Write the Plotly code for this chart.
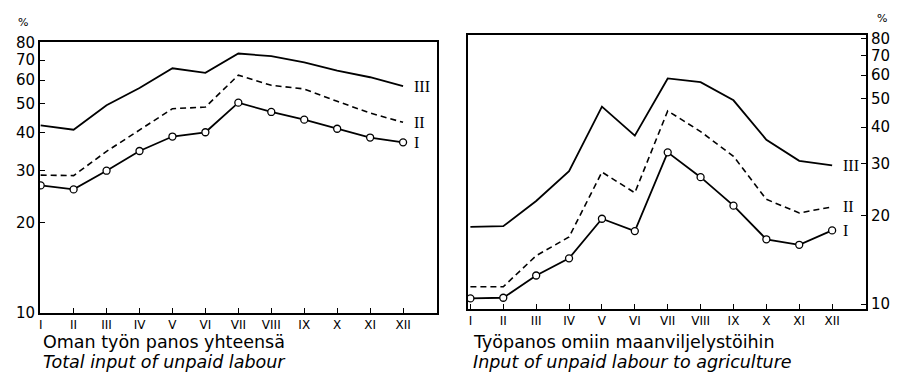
import numpy as np
import plotly.graph_objects as go

W, H = 898, 373

months = list(range(1, 13))
month_labels = ["I", "II", "III", "IV", "V", "VI", "VII", "VIII", "IX", "X", "XI", "XII"]
y_ticks = [10, 20, 30, 40, 50, 60, 70, 80]

# Left panel: total input of unpaid labour (%)
left_I = [26.7, 25.9, 29.9, 34.8, 38.9, 40.2, 50.5, 47.0, 44.3, 41.3, 38.6, 37.2]
left_II = [28.9, 28.8, 34.7, 41.0, 48.2, 48.8, 62.4, 57.7, 56.1, 51.0, 46.6, 43.4]
left_III = [42.4, 41.0, 49.5, 56.5, 65.8, 63.5, 73.7, 72.2, 68.9, 64.6, 61.4, 57.3]

# Right panel: input of unpaid labour to agriculture (%)
right_I = [10.45, 10.5, 12.5, 14.3, 19.5, 17.7, 32.8, 27.0, 21.6, 16.6, 15.9, 17.8]
right_II = [11.45, 11.45, 14.6, 16.9, 28.1, 23.9, 45.4, 38.6, 31.8, 22.7, 20.4, 21.4]
right_III = [18.3, 18.4, 22.4, 28.3, 46.9, 37.4, 58.5, 56.8, 49.3, 36.2, 30.7, 29.6]

series_labels = ["I", "II", "III"]

titles_left = ["Oman työn panos yhteensä", "<i>Total input of unpaid labour</i>"]
titles_right = ["Työpanos omiin maanviljelystöihin", "<i>Input of unpaid labour to agriculture</i>"]

FONT = "DejaVu Sans"
fig = go.Figure()


def add_panel(xa, ya, s1, s2, s3):
    fig.add_trace(go.Scatter(x=months, y=s3, mode="lines", xaxis=xa, yaxis=ya,
                             line=dict(color="black", width=1.8), showlegend=False))
    fig.add_trace(go.Scatter(x=months, y=s2, mode="lines", xaxis=xa, yaxis=ya,
                             line=dict(color="black", width=1.6, dash="6px,4px"), showlegend=False))
    fig.add_trace(go.Scatter(x=months, y=s1, mode="lines+markers", xaxis=xa, yaxis=ya,
                             line=dict(color="black", width=1.8),
                             marker=dict(symbol="circle", size=7, color="white",
                                         line=dict(color="black", width=1.3)),
                             showlegend=False))
    for lab, s in zip(series_labels, [s1, s2, s3]):
        fig.add_annotation(x=months[-1], y=np.log10(s[-1]), xref=xa, yref=ya,
                           text=lab, showarrow=False, xanchor="left", yanchor="middle",
                           xshift=9, font=dict(family="Liberation Serif", size=16, color="black"))


add_panel("x", "y", left_I, left_II, left_III)
add_panel("x2", "y2", right_I, right_II, right_III)

axis_common = dict(showline=True, linecolor="black", linewidth=2, mirror=True,
                   showgrid=False, zeroline=False, ticks="inside", tickcolor="black",
                   tickwidth=1, color="black", automargin=False)

fig.update_layout(
    width=W, height=H,
    margin=dict(l=0, r=0, t=0, b=0),
    paper_bgcolor="white", plot_bgcolor="white",
    font=dict(family=FONT, color="black"),
    xaxis=dict(domain=[40 / W, 437 / W], range=[0.98, 13.03], tickvals=months,
               ticktext=month_labels, ticklen=5, tickfont=dict(size=12), **axis_common),
    yaxis=dict(domain=[(H - 313) / H, (H - 42) / H], type="log", range=[1, 1.906],
               tickvals=y_ticks, ticktext=[str(v) for v in y_ticks], ticklen=5,
               tickfont=dict(size=15), side="left", **axis_common),
    xaxis2=dict(domain=[468 / W, 866 / W], range=[0.927, 13.03], tickvals=months,
                ticktext=month_labels, ticklen=5, tickfont=dict(size=12), anchor="y2",
                **axis_common),
    yaxis2=dict(domain=[(H - 309) / H, (H - 35) / H], type="log", range=[0.983, 1.915],
                tickvals=y_ticks, ticktext=[str(v) for v in y_ticks], ticklen=5,
                tickfont=dict(size=15), side="right", anchor="x2", **axis_common),
)

# "%" unit labels
fig.add_annotation(x=23 / W, y=(H - 22) / H, xref="paper", yref="paper", text="%",
                   showarrow=False, xanchor="center", yanchor="middle",
                   font=dict(size=11, color="black"))
fig.add_annotation(x=882 / W, y=(H - 18) / H, xref="paper", yref="paper", text="%",
                   showarrow=False, xanchor="center", yanchor="middle",
                   font=dict(size=11, color="black"))

# Panel captions
for (x0, texts) in [(41, titles_left), (471, titles_right)]:
    for t, yc in zip(texts, [342, 362]):
        fig.add_annotation(x=x0 / W, y=(H - yc) / H, xref="paper", yref="paper", text=t,
                           showarrow=False, xanchor="left", yanchor="middle",
                           font=dict(size=17.5, color="black"))

fig.write_html("out.html", config={"displayModeBar": False},
               post_script="document.body.style.margin='0';document.body.style.overflow='hidden';")
